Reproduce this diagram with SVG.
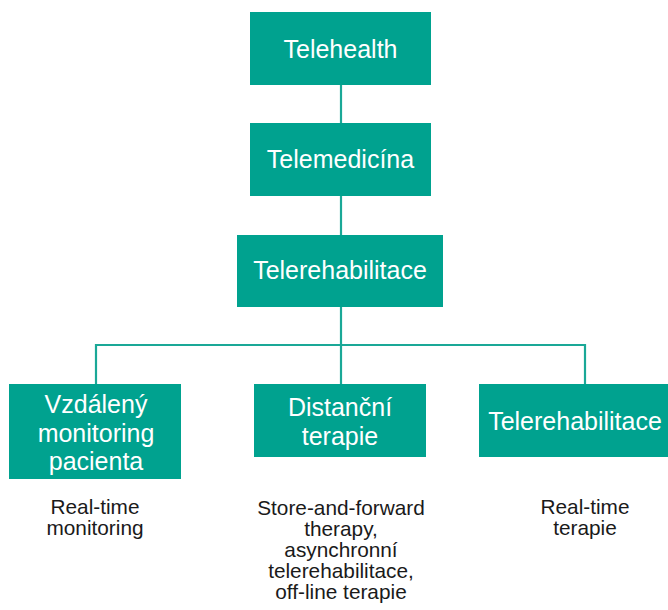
<svg xmlns="http://www.w3.org/2000/svg" width="668" height="610" viewBox="0 0 668 610">
<style>
.box{fill:#00A28F}
.bt{font-family:"Liberation Sans",Arial,sans-serif;font-size:25px;fill:#ffffff;text-anchor:middle}
.lt{font-family:"Liberation Sans",Arial,sans-serif;font-size:20.8px;fill:#1a1a1a;text-anchor:middle}
.con{stroke:#1AA897;stroke-width:2.2;fill:none}
</style>
<rect width="668" height="610" fill="#ffffff"/>
<g id="connectors">
<line class="con" x1="341" y1="85" x2="341" y2="123"/>
<line class="con" x1="341" y1="196" x2="341" y2="235"/>
<line class="con" x1="341" y1="307" x2="341" y2="384"/>
<polyline class="con" points="96,384 96,345 585,345 585,384"/>
</g>
<g id="telehealth">
<rect class="box" x="250" y="12" width="181" height="73"/>
<text class="bt" x="340.5" y="58">Telehealth</text>
</g>
<g id="telemedicina">
<rect class="box" x="250" y="123" width="181" height="73"/>
<text class="bt" x="340.5" y="168">Telemedicína</text>
</g>
<g id="telerehabilitace">
<rect class="box" x="237" y="235" width="206" height="72"/>
<text class="bt" x="340" y="279">Telerehabilitace</text>
</g>
<g id="vzdaleny">
<rect class="box" x="9" y="384" width="172" height="95"/>
<text class="bt" x="96" y="413">Vzdálený</text>
<text class="bt" x="96" y="442">monitoring</text>
<text class="bt" x="96" y="470">pacienta</text>
</g>
<g id="distancni">
<rect class="box" x="254" y="384" width="172" height="73"/>
<text class="bt" x="340" y="416">Distanční</text>
<text class="bt" x="340" y="445">terapie</text>
</g>
<g id="telerehab2">
<rect class="box" x="479" y="384" width="189" height="73"/>
<text class="bt" x="575" y="430">Telerehabilitace</text>
</g>
<g id="label-left">
<text class="lt" x="95" y="514">Real-time</text>
<text class="lt" x="95" y="535">monitoring</text>
</g>
<g id="label-mid">
<text class="lt" x="341" y="515">Store-and-forward</text>
<text class="lt" x="341" y="536">therapy,</text>
<text class="lt" x="341" y="557">asynchronní</text>
<text class="lt" x="341" y="578">telerehabilitace,</text>
<text class="lt" x="341" y="599">off-line terapie</text>
</g>
<g id="label-right">
<text class="lt" x="585" y="514">Real-time</text>
<text class="lt" x="585" y="535">terapie</text>
</g>
</svg>
